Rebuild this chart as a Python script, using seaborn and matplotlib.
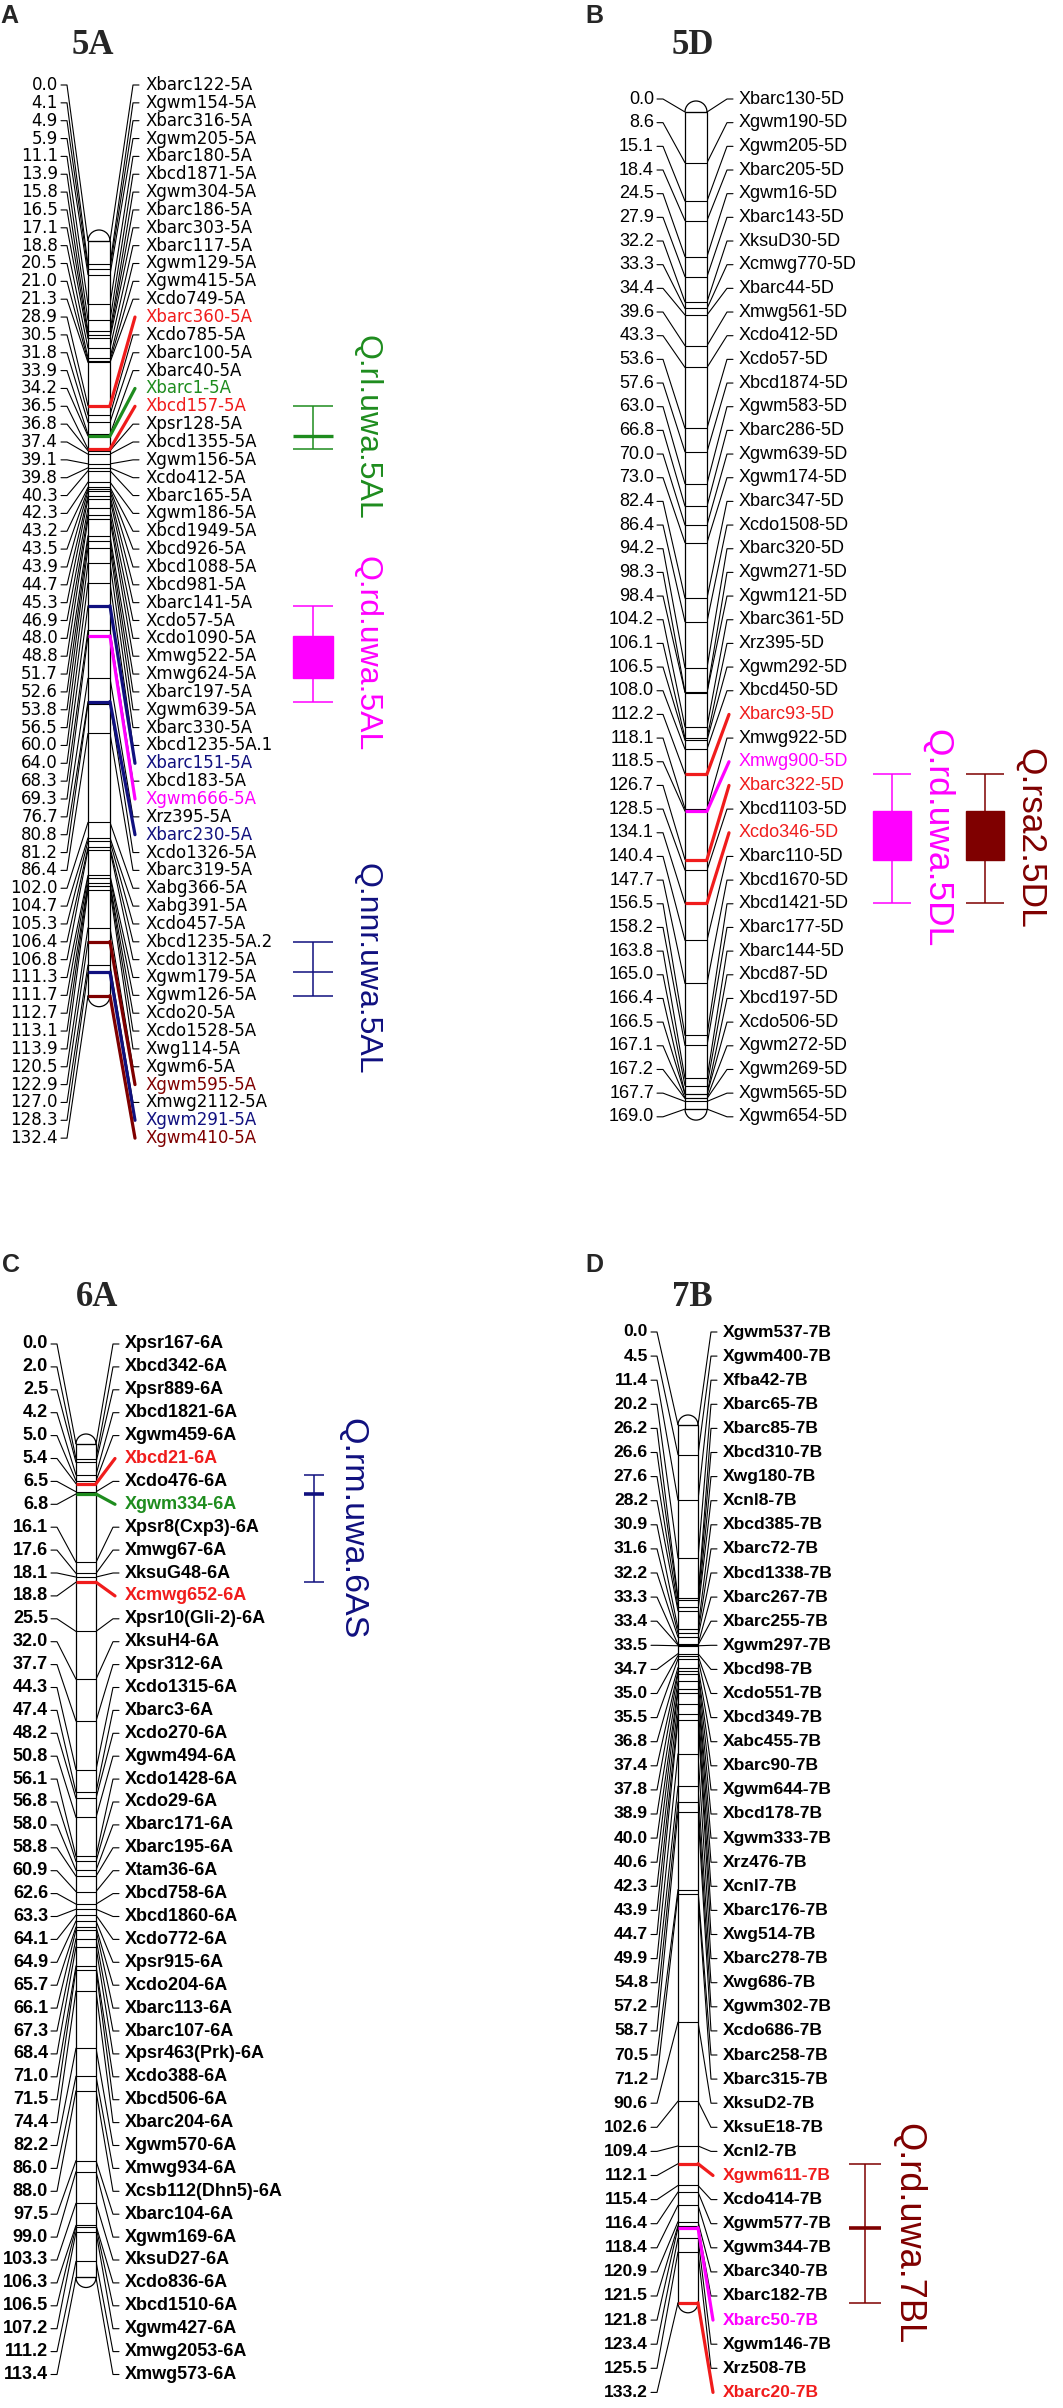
import numpy as np
import pandas as pd
import seaborn as sns
import matplotlib.pyplot as plt
from matplotlib.patches import Rectangle, Arc

W, H = 1063, 2408

RED = '#f01c1c'
GREEN = '#1e8c1e'
MAGENTA = '#ff00ff'
NAVY = '#10107f'
MAROON = '#7f0000'

# ---- chromosome 5A (panel A) ----
pos_5a = [0.0, 4.1, 4.9, 5.9, 11.1, 13.9, 15.8, 16.5, 17.1, 18.8, 20.5, 21.0, 21.3,
          28.9, 30.5, 31.8, 33.9, 34.2, 36.5, 36.8, 37.4, 39.1, 39.8, 40.3, 42.3,
          43.2, 43.5, 43.9, 44.7, 45.3, 46.9, 48.0, 48.8, 51.7, 52.6, 53.8, 56.5,
          60.0, 64.0, 68.3, 69.3, 76.7, 80.8, 81.2, 86.4, 102.0, 104.7, 105.3,
          106.4, 106.8, 111.3, 111.7, 112.7, 113.1, 113.9, 120.5, 122.9, 127.0,
          128.3, 132.4]
mk_5a = ['Xbarc122-5A', 'Xgwm154-5A', 'Xbarc316-5A', 'Xgwm205-5A', 'Xbarc180-5A',
         'Xbcd1871-5A', 'Xgwm304-5A', 'Xbarc186-5A', 'Xbarc303-5A', 'Xbarc117-5A',
         'Xgwm129-5A', 'Xgwm415-5A', 'Xcdo749-5A', 'Xbarc360-5A', 'Xcdo785-5A',
         'Xbarc100-5A', 'Xbarc40-5A', 'Xbarc1-5A', 'Xbcd157-5A', 'Xpsr128-5A',
         'Xbcd1355-5A', 'Xgwm156-5A', 'Xcdo412-5A', 'Xbarc165-5A', 'Xgwm186-5A',
         'Xbcd1949-5A', 'Xbcd926-5A', 'Xbcd1088-5A', 'Xbcd981-5A', 'Xbarc141-5A',
         'Xcdo57-5A', 'Xcdo1090-5A', 'Xmwg522-5A', 'Xmwg624-5A', 'Xbarc197-5A',
         'Xgwm639-5A', 'Xbarc330-5A', 'Xbcd1235-5A.1', 'Xbarc151-5A', 'Xbcd183-5A',
         'Xgwm666-5A', 'Xrz395-5A', 'Xbarc230-5A', 'Xcdo1326-5A', 'Xbarc319-5A',
         'Xabg366-5A', 'Xabg391-5A', 'Xcdo457-5A', 'Xbcd1235-5A.2', 'Xcdo1312-5A',
         'Xgwm179-5A', 'Xgwm126-5A', 'Xcdo20-5A', 'Xcdo1528-5A', 'Xwg114-5A',
         'Xgwm6-5A', 'Xgwm595-5A', 'Xmwg2112-5A', 'Xgwm291-5A', 'Xgwm410-5A']
hl_5a = {'Xbarc360-5A': RED, 'Xbarc1-5A': GREEN, 'Xbcd157-5A': RED,
         'Xbarc151-5A': NAVY, 'Xgwm666-5A': MAGENTA, 'Xbarc230-5A': NAVY,
         'Xgwm595-5A': MAROON, 'Xgwm291-5A': NAVY, 'Xgwm410-5A': MAROON}
qtl_5a_names = ['Q.rl.uwa.5AL', 'Q.rd.uwa.5AL', 'Q.nnr.uwa.5AL']
qtl_5a_colors = [GREEN, MAGENTA, NAVY]
qtl_5a_low = [28.9, 64.0, 122.9]
qtl_5a_high = [36.5, 80.8, 132.4]
qtl_5a_peak = [34.2, None, 128.3]
qtl_5a_box = [None, (69.3, 76.7), None]

# ---- chromosome 5D (panel B) ----
pos_5d = [0.0, 8.6, 15.1, 18.4, 24.5, 27.9, 32.2, 33.3, 34.4, 39.6, 43.3, 53.6,
          57.6, 63.0, 66.8, 70.0, 73.0, 82.4, 86.4, 94.2, 98.3, 98.4, 104.2, 106.1,
          106.5, 108.0, 112.2, 118.1, 118.5, 126.7, 128.5, 134.1, 140.4, 147.7,
          156.5, 158.2, 163.8, 165.0, 166.4, 166.5, 167.1, 167.2, 167.7, 169.0]
mk_5d = ['Xbarc130-5D', 'Xgwm190-5D', 'Xgwm205-5D', 'Xbarc205-5D', 'Xgwm16-5D',
         'Xbarc143-5D', 'XksuD30-5D', 'Xcmwg770-5D', 'Xbarc44-5D', 'Xmwg561-5D',
         'Xcdo412-5D', 'Xcdo57-5D', 'Xbcd1874-5D', 'Xgwm583-5D', 'Xbarc286-5D',
         'Xgwm639-5D', 'Xgwm174-5D', 'Xbarc347-5D', 'Xcdo1508-5D', 'Xbarc320-5D',
         'Xgwm271-5D', 'Xgwm121-5D', 'Xbarc361-5D', 'Xrz395-5D', 'Xgwm292-5D',
         'Xbcd450-5D', 'Xbarc93-5D', 'Xmwg922-5D', 'Xmwg900-5D', 'Xbarc322-5D',
         'Xbcd1103-5D', 'Xcdo346-5D', 'Xbarc110-5D', 'Xbcd1670-5D', 'Xbcd1421-5D',
         'Xbarc177-5D', 'Xbarc144-5D', 'Xbcd87-5D', 'Xbcd197-5D', 'Xcdo506-5D',
         'Xgwm272-5D', 'Xgwm269-5D', 'Xgwm565-5D', 'Xgwm654-5D']
hl_5d = {'Xbarc93-5D': RED, 'Xmwg900-5D': MAGENTA, 'Xbarc322-5D': RED,
         'Xcdo346-5D': RED}
qtl_5d_names = ['Q.rd.uwa.5DL', 'Q.rsa2.5DL']
qtl_5d_colors = [MAGENTA, MAROON]
qtl_5d_low = [112.2, 112.2]
qtl_5d_high = [134.1, 134.1]
qtl_5d_peak = [None, None]
qtl_5d_box = [(118.5, 126.7), (118.5, 126.7)]

# ---- chromosome 6A (panel C) ----
pos_6a = [0.0, 2.0, 2.5, 4.2, 5.0, 5.4, 6.5, 6.8, 16.1, 17.6, 18.1, 18.8, 25.5,
          32.0, 37.7, 44.3, 47.4, 48.2, 50.8, 56.1, 56.8, 58.0, 58.8, 60.9, 62.6,
          63.3, 64.1, 64.9, 65.7, 66.1, 67.3, 68.4, 71.0, 71.5, 74.4, 82.2, 86.0,
          88.0, 97.5, 99.0, 103.3, 106.3, 106.5, 107.2, 111.2, 113.4]
mk_6a = ['Xpsr167-6A', 'Xbcd342-6A', 'Xpsr889-6A', 'Xbcd1821-6A', 'Xgwm459-6A',
         'Xbcd21-6A', 'Xcdo476-6A', 'Xgwm334-6A', 'Xpsr8(Cxp3)-6A', 'Xmwg67-6A',
         'XksuG48-6A', 'Xcmwg652-6A', 'Xpsr10(Gli-2)-6A', 'XksuH4-6A', 'Xpsr312-6A',
         'Xcdo1315-6A', 'Xbarc3-6A', 'Xcdo270-6A', 'Xgwm494-6A', 'Xcdo1428-6A',
         'Xcdo29-6A', 'Xbarc171-6A', 'Xbarc195-6A', 'Xtam36-6A', 'Xbcd758-6A',
         'Xbcd1860-6A', 'Xcdo772-6A', 'Xpsr915-6A', 'Xcdo204-6A', 'Xbarc113-6A',
         'Xbarc107-6A', 'Xpsr463(Prk)-6A', 'Xcdo388-6A', 'Xbcd506-6A', 'Xbarc204-6A',
         'Xgwm570-6A', 'Xmwg934-6A', 'Xcsb112(Dhn5)-6A', 'Xbarc104-6A', 'Xgwm169-6A',
         'XksuD27-6A', 'Xcdo836-6A', 'Xbcd1510-6A', 'Xgwm427-6A', 'Xmwg2053-6A',
         'Xmwg573-6A']
hl_6a = {'Xbcd21-6A': RED, 'Xgwm334-6A': GREEN, 'Xcmwg652-6A': RED}
qtl_6a_names = ['Q.rm.uwa.6AS']
qtl_6a_colors = [NAVY]
qtl_6a_low = [4.2]
qtl_6a_high = [18.8]
qtl_6a_peak = [6.8]
qtl_6a_box = [None]

# ---- chromosome 7B (panel D) ----
pos_7b = [0.0, 4.5, 11.4, 20.2, 26.2, 26.6, 27.6, 28.2, 30.9, 31.6, 32.2, 33.3,
          33.4, 33.5, 34.7, 35.0, 35.5, 36.8, 37.4, 37.8, 38.9, 40.0, 40.6, 42.3,
          43.9, 44.7, 49.9, 54.8, 57.2, 58.7, 70.5, 71.2, 90.6, 102.6, 109.4, 112.1,
          115.4, 116.4, 118.4, 120.9, 121.5, 121.8, 123.4, 125.5, 133.2]
mk_7b = ['Xgwm537-7B', 'Xgwm400-7B', 'Xfba42-7B', 'Xbarc65-7B', 'Xbarc85-7B',
         'Xbcd310-7B', 'Xwg180-7B', 'Xcnl8-7B', 'Xbcd385-7B', 'Xbarc72-7B',
         'Xbcd1338-7B', 'Xbarc267-7B', 'Xbarc255-7B', 'Xgwm297-7B', 'Xbcd98-7B',
         'Xcdo551-7B', 'Xbcd349-7B', 'Xabc455-7B', 'Xbarc90-7B', 'Xgwm644-7B',
         'Xbcd178-7B', 'Xgwm333-7B', 'Xrz476-7B', 'Xcnl7-7B', 'Xbarc176-7B',
         'Xwg514-7B', 'Xbarc278-7B', 'Xwg686-7B', 'Xgwm302-7B', 'Xcdo686-7B',
         'Xbarc258-7B', 'Xbarc315-7B', 'XksuD2-7B', 'XksuE18-7B', 'Xcnl2-7B',
         'Xgwm611-7B', 'Xcdo414-7B', 'Xgwm577-7B', 'Xgwm344-7B', 'Xbarc340-7B',
         'Xbarc182-7B', 'Xbarc50-7B', 'Xgwm146-7B', 'Xrz508-7B', 'Xbarc20-7B']
hl_7b = {'Xgwm611-7B': RED, 'Xbarc50-7B': MAGENTA, 'Xbarc20-7B': RED}
qtl_7b_names = ['Q.rd.uwa.7BL']
qtl_7b_colors = [MAROON]
qtl_7b_low = [112.1]
qtl_7b_high = [133.2]
qtl_7b_peak = [121.8]
qtl_7b_box = [None]

# layout of each panel, in output pixels
lay_a = dict(box=(0, 530, 0, 1190), bar_left=88, bar_w=22, top_px=241, scale=5.70,
             val_right=58, name_left=145, row0=85, step=17.85,
             fam='DejaVu Sans', fs=12, weight='normal',
             title='5A', title_xy=(93, 45), letter='A', letter_xy=(0, 16),
             qx=[313, 313, 313], qhalf=20, qlab_x=367, qfs=23, peak_lw=[2.4, 0, 1.1])
lay_b = dict(box=(530, 1063, 0, 1190), bar_left=685, bar_w=22, top_px=112, scale=5.90,
             val_right=654, name_left=739, row0=99, step=23.67,
             fam='Liberation Sans', fs=13, weight='normal',
             title='5D', title_xy=(693, 45), letter='B', letter_xy=(585, 16),
             qx=[892, 985], qhalf=19, qlab_x=None, qfs=25.5, peak_lw=[0, 0])
lay_c = dict(box=(0, 530, 1190, 2408), bar_left=76, bar_w=20, top_px=1444, scale=7.35,
             val_right=48, name_left=125, row0=1344, step=22.9,
             fam='Liberation Sans', fs=13, weight='bold',
             title='6A', title_xy=(97, 1297), letter='C', letter_xy=(2, 1265),
             qx=[314], qhalf=10, qlab_x=352, qfs=24.5, peak_lw=[2.6])
lay_d = dict(box=(530, 1063, 1190, 2408), bar_left=678, bar_w=20, top_px=1425, scale=6.59,
             val_right=648, name_left=723, row0=1332, step=24.1,
             fam='Liberation Sans', fs=12.6, weight='bold',
             title='7B', title_xy=(692, 1297), letter='D', letter_xy=(585, 1265),
             qx=[865], qhalf=16, qlab_x=908, qfs=26, peak_lw=[2.6])

sns.set_theme(style='white')
plt.rcParams['font.family'] = ['Liberation Sans', 'DejaVu Sans']

fig = plt.figure(figsize=(W / 100, H / 100), dpi=100)


def to_cm(cfg, px):
    return (np.asarray(px, dtype=float) - cfg['top_px']) / cfg['scale']


def draw_map(cfg, pos, names, colors, qn, qc, qlo, qhi, qpk, qbox):
    x0, x1, y0, y1 = cfg['box']
    ax = fig.add_axes([x0 / W, 1 - y1 / H, (x1 - x0) / W, (y1 - y0) / H])
    n = len(pos)
    rows = to_cm(cfg, cfg['row0'] + cfg['step'] * np.arange(n))
    bl = cfg['bar_left']
    br = bl + cfg['bar_w']
    bc = (bl + br) / 2
    vr = cfg['val_right']
    nl = cfg['name_left']

    # black connectors between label rows and marker positions
    recs = []
    for i, (p, r) in enumerate(zip(pos, rows)):
        u = 'L%d' % i
        recs += [(vr + 3, r, u), (vr + 9, r, u), (bl, p, u)]
        if names[i] not in colors:
            u = 'R%d' % i
            recs += [(br, p, u), (nl - 12, r, u), (nl - 6, r, u)]
    df = pd.DataFrame(recs, columns=['x', 'y', 'uid'])
    sns.lineplot(data=df, x='x', y='y', units='uid', estimator=None, sort=False,
                 color='black', lw=0.8, ax=ax)

    # chromosome bar
    ax.add_patch(Rectangle((bl, 0), cfg['bar_w'], pos[-1], fc='white', ec='black',
                           lw=0.9, zorder=3))
    ch = cfg['bar_w'] / cfg['scale']
    ax.add_patch(Arc((bc, 0), cfg['bar_w'], ch, theta1=180, theta2=360,
                     color='black', lw=0.9, zorder=3))
    ax.add_patch(Arc((bc, pos[-1]), cfg['bar_w'], ch, theta1=0, theta2=180,
                     color='black', lw=0.9, zorder=3))
    ax.hlines(pos, bl, br, color='black', lw=0.8, zorder=4)

    # highlighted markers
    for i, (p, r) in enumerate(zip(pos, rows)):
        c = colors.get(names[i])
        if c is None:
            continue
        ax.hlines(p, bl, br, color=c, lw=2.3, zorder=5)
        ax.plot([br, nl - 10], [p, r], color=c, lw=2.3, zorder=5,
                solid_capstyle='round')

    fkw = dict(family=[cfg['fam'], 'DejaVu Sans'], fontsize=cfg['fs'],
               fontweight=cfg['weight'], va='center')
    for i, (p, r) in enumerate(zip(pos, rows)):
        ax.text(vr, r, '%.1f' % p, ha='right', color='black', **fkw)
        ax.text(nl, r, names[i], ha='left', color=colors.get(names[i], 'black'), **fkw)

    # QTL intervals
    hw = cfg['qhalf']
    for j in range(len(qn)):
        cx = cfg['qx'][j]
        c = qc[j]
        ax.vlines(cx, qlo[j], qhi[j], color=c, lw=1.1, zorder=3)
        ax.hlines([qlo[j], qhi[j]], cx - hw, cx + hw, color=c, lw=1.1)
        if qpk[j] is not None:
            ax.hlines(qpk[j], cx - hw, cx + hw, color=c, lw=cfg['peak_lw'][j])
        if qbox[j] is not None:
            ax.add_patch(Rectangle((cx - hw, qbox[j][0]), 2 * hw,
                                   qbox[j][1] - qbox[j][0], fc=c, ec=c, lw=1,
                                   zorder=4))
        lx = cfg['qlab_x'] if cfg['qlab_x'] is not None else cx + 45
        ax.text(lx, (qlo[j] + qhi[j]) / 2, qn[j], rotation=270, ha='center',
                va='center', color=c, fontsize=cfg['qfs'], family='Liberation Sans')

    tx, ty = cfg['title_xy']
    ax.text(tx, to_cm(cfg, ty), cfg['title'], ha='center', va='center',
            family='Liberation Serif', fontweight='bold', fontsize=25)
    lx, ly = cfg['letter_xy']
    ax.text(lx, to_cm(cfg, ly), cfg['letter'], ha='left', va='center',
            family='Liberation Sans', fontweight='bold', fontsize=18)

    ax.set_xlim(x0, x1)
    ax.set_ylim(to_cm(cfg, y1), to_cm(cfg, y0))
    ax.axis('off')
    return ax


draw_map(lay_a, pos_5a, mk_5a, hl_5a, qtl_5a_names, qtl_5a_colors, qtl_5a_low,
         qtl_5a_high, qtl_5a_peak, qtl_5a_box)
draw_map(lay_b, pos_5d, mk_5d, hl_5d, qtl_5d_names, qtl_5d_colors, qtl_5d_low,
         qtl_5d_high, qtl_5d_peak, qtl_5d_box)
draw_map(lay_c, pos_6a, mk_6a, hl_6a, qtl_6a_names, qtl_6a_colors, qtl_6a_low,
         qtl_6a_high, qtl_6a_peak, qtl_6a_box)
draw_map(lay_d, pos_7b, mk_7b, hl_7b, qtl_7b_names, qtl_7b_colors, qtl_7b_low,
         qtl_7b_high, qtl_7b_peak, qtl_7b_box)

fig.savefig('out.png', dpi=100, facecolor='white')
